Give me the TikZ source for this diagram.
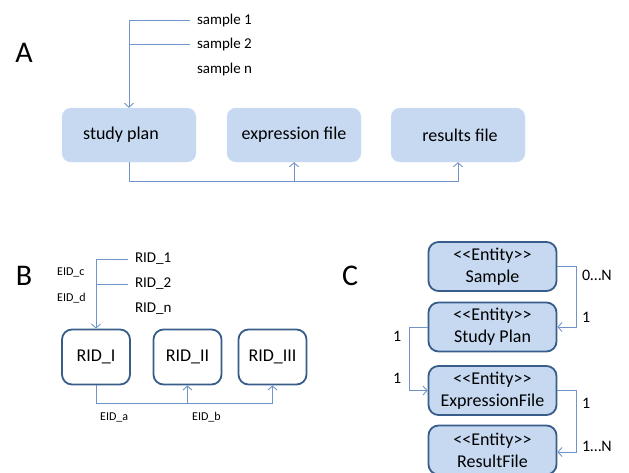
\documentclass[tikz,border=0pt]{standalone}
\usepackage{fontspec}
\setmainfont{Carlito}
\usetikzlibrary{arrows.meta,calc}
\definecolor{boxfill}{HTML}{C6D9F1}
\definecolor{bordc}{HTML}{385D8A}
\definecolor{linec}{HTML}{7094C8}
\newcommand{\fs}[1]{\fontsize{#1}{#1}\selectfont}
\begin{document}
\begin{tikzpicture}[x=1pt,y=-1pt,
  conn/.style={draw=linec,line width=0.9pt},
  arr/.style={conn,-{Straight Barb[length=4pt,width=9pt]}},
  boxA/.style={fill=boxfill,draw=boxfill!80!white,rounded corners=9pt,minimum width=134pt,minimum height=54pt,inner sep=0,font=\fs{18}},
  boxB/.style={fill=white,draw=bordc,line width=1.8pt,rounded corners=10pt,minimum width=68pt,minimum height=55pt,inner sep=0,font=\fs{18}},
  boxC/.style={fill=boxfill,draw=bordc,line width=1.8pt,rounded corners=10pt,minimum width=128pt,minimum height=49pt,inner sep=0,align=center,font=\fontsize{18}{22}\selectfont},
  panel/.style={inner sep=0,font=\fs{30}},
  lbl/.style={inner sep=0,anchor=west,outer xsep=7pt,font=\fs{15}},
  small/.style={inner sep=0,anchor=west,font=\fs{12}},
  mult/.style={inner sep=0,anchor=west,font=\fs{16}}]
\useasboundingbox (0,0) rectangle (629,472);
% ---------------- Panel A
\node[panel] (pA) at (24,53) {A};
\node[lbl] (s1) at (190,20) {sample 1};
\node[lbl] (s2) at (190,44) {sample 2};
\node[lbl] (sn) at (190,69) {sample n};
\node[boxA] (sp) at (129,135) {study plan\hspace*{16pt}};
\node[boxA] (ef) at (294,135) {expression file};
\node[boxA] (rf) at (458,135) {\hspace*{4pt}results file};
\draw[arr] (s1.west) -| (sp.north);
\draw[conn] (s2.west) -- (s2.west -| sp.north);
\coordinate (busA) at (129,181);
\draw[arr] (sp.south) -- (busA) -| (rf.south);
\draw[arr] (busA -| ef.south) -- (ef.south);
% ---------------- Panel B
\node[panel] (pB) at (24,276) {B};
\node[lbl,font=\fs{15}] (r1) at (128,259) {RID\_1};
\node[lbl,font=\fs{15}] (r2) at (128,284) {RID\_2};
\node[lbl,font=\fs{15}] (rn) at (128,309) {RID\_n};
\node[small] (ec) at (57,272) {EID\_c};
\node[small] (ed) at (57,298) {EID\_d};
\node[boxB] (b1) at (96,357) {RID\_I};
\node[boxB] (b2) at (187.5,357) {RID\_II};
\node[boxB] (b3) at (272.5,357) {RID\_III};
\draw[arr] (r1.west) -| (b1.north);
\draw[conn] (r2.west) -- (r2.west -| b1.north);
\coordinate (busB) at (96,403);
\draw[arr] (b1.south) -- (busB) -| (b3.south);
\draw[arr] (busB -| b2.south) -- (b2.south);
\node[small] (ea) at (100,417) {EID\_a};
\node[small] (eb) at (192,417) {EID\_b};
% ---------------- Panel C
\node[panel] (pC) at (350,276) {C};
\node[boxC] (cs) at (492.5,266.5) {<{}<Entity>{}>\\Sample};
\node[boxC] (cp) at (492.5,327) {<{}<Entity>{}>\\Study Plan};
\node[boxC] (ce) at (492.5,390.5) {<{}<Entity>{}>\\ExpressionFile};
\node[boxC] (cr) at (492.5,450) {<{}<Entity>{}>\\ResultFile};
\draw[arr] (cs.east) -- ++(19,0) |- (cp.east);
\draw[arr] (cp.west) -- ++(-18,0) |- (ce.west);
\draw[arr] (ce.east) -- ++(19,0) |- ([yshift=-2pt]cr.east);
\node[mult] (m1) at (582,275) {0…N};
\node[mult] (m2) at (582,317) {1};
\node[mult] (m3) at (393,336) {1};
\node[mult] (m4) at (393,378) {1};
\node[mult] (m5) at (582,403) {1};
\node[mult] (m6) at (582,446) {1…N};
\end{tikzpicture}
\end{document}
